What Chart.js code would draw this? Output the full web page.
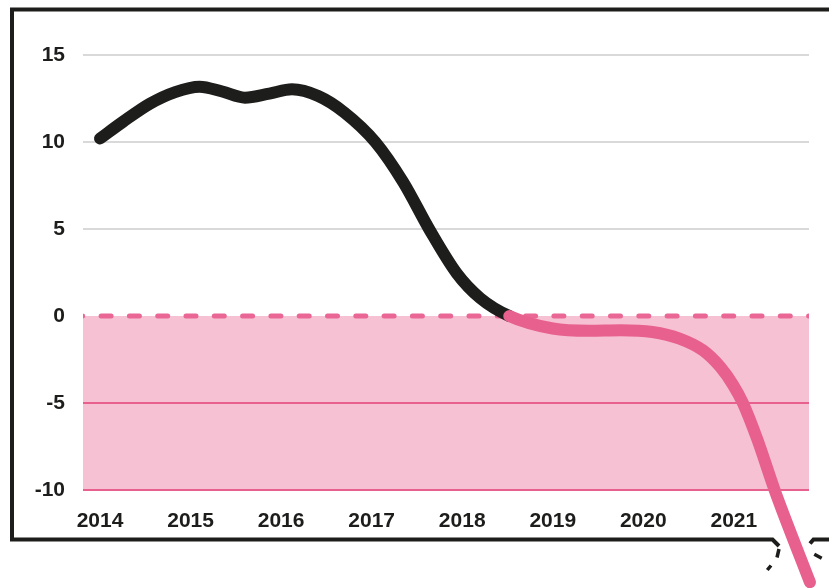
<!DOCTYPE html>
<html>
<head>
<meta charset="utf-8">
<script src="https://cdn.jsdelivr.net/npm/chart.js@4.4.1/dist/chart.umd.min.js"></script>
<style>
  html, body { margin: 0; padding: 0; background: #ffffff; }
  #wrap { width: 829px; height: 588px; position: relative; }
</style>
</head>
<body>
<div id="wrap"><canvas id="c" width="829" height="588"></canvas></div>
<script>
// ---- data ----
const yearTicks = [2014, 2015, 2016, 2017, 2018, 2019, 2020, 2021];
const xValues = [2014.0, 2014.25, 2014.55, 2014.83, 2015.1, 2015.35, 2015.6, 2015.87, 2016.12, 2016.41,
                 2016.7, 2017.04, 2017.35, 2017.64, 2017.94, 2018.2, 2018.52,
                 2019.0, 2019.4, 2019.75, 2020.1, 2020.4, 2020.66, 2020.85, 2020.99, 2021.1,
                 2021.26, 2021.45, 2021.84];
const yValues = [10.2, 11.15, 12.2, 12.87, 13.18, 12.9, 12.55, 12.78, 13.03, 12.64,
                 11.69, 10.0, 7.68, 4.95, 2.45, 1.02, 0,
                 -0.72, -0.85, -0.82, -0.92, -1.3, -1.98, -2.93, -3.95, -5.0,
                 -7.1, -10.0, -15.3];
const yTickValues = [-10, -5, 0, 5, 10, 15];

const BLACK = '#1d1d1b';
const PINK = '#e8608e';
const PINK_FILL = '#f6c1d2';
const PINK_DASH = '#ea6795';
const GREY = '#d9d9d9';

const points = xValues.map((x, i) => ({ x: x, y: yValues[i] }));

const backgroundPlugin = {
  id: 'bg',
  beforeDraw(chart) {
    const ctx = chart.ctx;
    const area = chart.chartArea;
    const ys = chart.scales.y;
    ctx.save();
    const y0 = ys.getPixelForValue(0);
    const y1 = ys.getPixelForValue(-10);
    ctx.fillStyle = PINK_FILL;
    ctx.fillRect(area.left, y0, area.right - area.left, y1 - y0);

    // frame
    ctx.strokeStyle = BLACK;
    ctx.lineWidth = 4;
    ctx.lineCap = 'butt';
    ctx.lineJoin = 'miter';
    ctx.beginPath();
    ctx.moveTo(840, 9.5);
    ctx.lineTo(12, 9.5);
    ctx.lineTo(12, 539.5);
    ctx.lineTo(772.5, 539.5);
    ctx.lineTo(779, 546);
    ctx.stroke();
    ctx.beginPath();
    ctx.moveTo(810, 543.5);
    ctx.lineTo(813.5, 539.5);
    ctx.lineTo(840, 539.5);
    ctx.stroke();
    ctx.lineWidth = 3.5;
    ctx.beginPath();
    ctx.moveTo(779, 549); ctx.lineTo(777, 557.5);
    ctx.moveTo(771, 565.5); ctx.lineTo(767.3, 570);
    ctx.moveTo(814.3, 554.3); ctx.lineTo(821.7, 558.3);
    ctx.stroke();
    ctx.restore();
  },
  beforeDatasetsDraw(chart) {
    const ctx = chart.ctx;
    const area = chart.chartArea;
    const ys = chart.scales.y;
    const y0 = ys.getPixelForValue(0);
    ctx.save();
    ctx.beginPath();
    ctx.rect(area.left, area.top - 10, area.right - area.left, area.bottom - area.top + 20);
    ctx.clip();
    ctx.strokeStyle = PINK_DASH;
    ctx.lineWidth = 5;
    ctx.lineCap = 'round';
    ctx.setLineDash([10, 18.3]);
    ctx.beginPath();
    ctx.moveTo(area.left + 18.1 - 28.3, y0);
    ctx.lineTo(area.right + 20, y0);
    ctx.stroke();
    ctx.restore();
  }
};

new Chart(document.getElementById('c'), {
  type: 'line',
  data: {
    datasets: [{
      data: points,
      borderColor: BLACK,
      borderWidth: 12,
      borderCapStyle: 'round',
      borderJoinStyle: 'round',
      cubicInterpolationMode: 'monotone',
      capBezierPoints: false,
      pointRadius: 0,
      pointHoverRadius: 0,
      fill: false,
      clip: false,
      segment: {
        borderColor: c => (c.p0.parsed.y <= 0 && c.p1.parsed.y <= 0) ? PINK : BLACK
      }
    }]
  },
  options: {
    responsive: false,
    animation: false,
    events: [],
    layout: { padding: { left: 0, top: 55, right: 20, bottom: 0 } },
    plugins: {
      legend: { display: false },
      tooltip: { enabled: false },
      title: { display: false }
    },
    scales: {
      x: {
        type: 'linear',
        min: 2013.812,
        max: 2021.83,
        afterBuildTicks: s => { s.ticks = yearTicks.map(v => ({ value: v })); },
        afterFit: s => { s.height = 98; },
        grid: { display: false },
        border: { display: false },
        ticks: {
          autoSkip: false,
          maxRotation: 0,
          padding: 11,
          color: BLACK,
          font: { family: "'Liberation Sans', Arial, sans-serif", size: 21, weight: 'bold' },
          callback: v => String(v)
        }
      },
      y: {
        type: 'linear',
        min: -10,
        max: 15,
        afterBuildTicks: s => { s.ticks = yTickValues.map(v => ({ value: v })); },
        afterFit: s => { s.width = 83; },
        border: { display: false },
        grid: {
          drawTicks: false,
          lineWidth: 2,
          color: c => {
            const v = c.tick ? c.tick.value : 0;
            if (v > 0) return GREY;
            if (v < 0) return PINK;
            return 'rgba(0,0,0,0)';
          }
        },
        ticks: {
          padding: 18,
          color: BLACK,
          font: { family: "'Liberation Sans', Arial, sans-serif", size: 21, weight: 'bold' },
          callback: v => String(v)
        }
      }
    }
  },
  plugins: [backgroundPlugin]
});
</script>
</body>
</html>
